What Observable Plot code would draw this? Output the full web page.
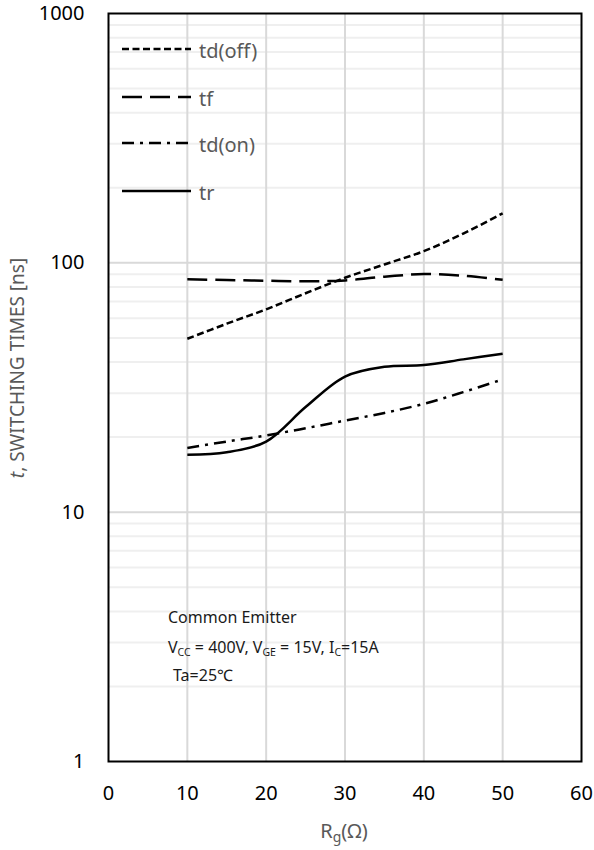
<!DOCTYPE html>
<html>
<head>
<meta charset="utf-8">
<script src="https://cdn.jsdelivr.net/npm/d3@7"></script>
<script src="https://cdn.jsdelivr.net/npm/@observablehq/plot@0.6"></script>
<style>
  html, body { margin: 0; padding: 0; background: white; }
  #wrap { position: relative; width: 594px; height: 850px; font-family: "Noto Sans", sans-serif; }
  #wrap svg.overlay { position: absolute; left: 0; top: 0; pointer-events: none; }
</style>
</head>
<body>
<div id="wrap"></div>
<script>
// ---- data ----
const seriesNames = ["td(off)", "tf", "td(on)", "tr"];

const tdOffRg = [10, 15, 20, 25, 30, 35, 40, 45, 50];
const tdOffNs = [49.6, 57, 65.1, 75.5, 87.1, 98.5, 111.4, 131, 158];

const tfRg = [10, 15, 20, 25, 30, 35, 40, 45, 50];
const tfNs = [86.0, 85.3, 84.8, 84.3, 85.0, 88.0, 90.1, 88.8, 85.5];

const tdOnRg = [10, 15, 20, 25, 30, 35, 40, 45, 50];
const tdOnNs = [18.1, 19.2, 20.3, 21.7, 23.3, 25.0, 27.2, 30.3, 34.1];

const trRg = [10, 15, 20, 25, 30, 35, 40, 45, 50];
const trNs = [17.0, 17.4, 19.2, 26.4, 35.0, 38.3, 38.9, 41.0, 43.2];

const xTicks = [0, 10, 20, 30, 40, 50, 60];
const xGrid = [10, 20, 30, 40, 50];
const yTicks = [1, 10, 100, 1000];
const yMajorGrid = [10, 100];
const yMinorGrid = [2, 3, 4, 5, 6, 7, 8, 9, 20, 30, 40, 50, 60, 70, 80, 90, 200, 300, 400, 500, 600, 700, 800, 900];

// ---- styles ----
const dashes = { "td(off)": "7,3.5", "tf": "20,8", "td(on)": "12,6,3,6", "tr": null };

function rows(xs, ys, name) { return xs.map((x, i) => ({ rg: x, t: ys[i], name })); }
const data = {
  "td(off)": rows(tdOffRg, tdOffNs, "td(off)"),
  "tf": rows(tfRg, tfNs, "tf"),
  "td(on)": rows(tdOnRg, tdOnNs, "td(on)"),
  "tr": rows(trRg, trNs, "tr")
};

const lineMarks = seriesNames.map(n => Plot.line(data[n], {
  x: "rg", y: "t", curve: "catmull-rom", stroke: "#000", strokeWidth: 2.5,
  strokeDasharray: dashes[n] || undefined, strokeLinecap: "butt"
}));

const chart = Plot.plot({
  width: 594, height: 850,
  marginLeft: 108, marginRight: 13, marginTop: 13, marginBottom: 89,
  style: { fontFamily: "Noto Sans", fontSize: "20px", color: "#000", background: "white" },
  x: { domain: [0, 60] },
  y: { type: "log", domain: [1, 1000] },
  marks: [
    Plot.ruleY(yMinorGrid, { stroke: "#efefef", strokeWidth: 2 }),
    Plot.ruleY(yMajorGrid, { stroke: "#d9d9d9", strokeWidth: 2 }),
    Plot.ruleX(xGrid, { stroke: "#d9d9d9", strokeWidth: 2 }),
    Plot.axisX({ ticks: xTicks, tickSize: 0, tickPadding: 24, fontSize: 20, label: null, tickFormat: d => String(d) }),
    Plot.axisY({ ticks: yTicks, tickSize: 0, tickPadding: 24, fontSize: 20, label: null, tickFormat: d => String(d) }),
    ...lineMarks,
    Plot.frame({ stroke: "#000", strokeWidth: 2 })
  ]
});
const wrap = document.getElementById("wrap");
wrap.appendChild(chart);

// ---- overlay: legend, annotation, axis titles ----
const NS = "http://www.w3.org/2000/svg";
const ov = document.createElementNS(NS, "svg");
ov.setAttribute("class", "overlay");
ov.setAttribute("width", 594);
ov.setAttribute("height", 850);
ov.setAttribute("font-family", "Noto Sans");
wrap.appendChild(ov);
function el(tag, attrs, parent) {
  const e = document.createElementNS(NS, tag);
  for (const k in attrs) e.setAttribute(k, attrs[k]);
  (parent || ov).appendChild(e);
  return e;
}

// legend
const legendY = [49, 97, 143, 191];
seriesNames.forEach((n, i) => {
  const y = legendY[i];
  const ln = el("line", { x1: 122, x2: 191, y1: y, y2: y, stroke: "#000", "stroke-width": 2.5 });
  if (dashes[n]) ln.setAttribute("stroke-dasharray", dashes[n]);
  const t = el("text", { x: 199, y: y + 1, "font-size": 20, fill: "#595959", "dominant-baseline": "central" });
  t.textContent = n;
});

// annotation
const a1 = el("text", { x: 168, y: 623, "font-size": 16, fill: "#1a1a1a" });
a1.textContent = "Common Emitter";
const a2 = el("text", { x: 168, y: 653, "font-size": 16, fill: "#1a1a1a" });
const parts = [["V", 0], ["CC", 1], [" = 400V, V", 0], ["GE", 1], [" = 15V, I", 0], ["C", 1], ["=15A", 0]];
let sub = false;
parts.forEach(([s, isSub]) => {
  const ts = el("tspan", {}, a2);
  if (isSub && !sub) { ts.setAttribute("dy", 3); ts.setAttribute("font-size", 10.5); sub = true; }
  else if (isSub) { ts.setAttribute("font-size", 10.5); }
  else if (!isSub && sub) { ts.setAttribute("dy", -3); sub = false; }
  ts.textContent = s;
});
const a3 = el("text", { x: 173, y: 681, "font-size": 16, fill: "#1a1a1a" });
a3.textContent = "Ta=25℃";

// y axis title
const yt = el("text", { transform: "translate(23.5,368) rotate(-90)", "text-anchor": "middle", "font-size": 19, fill: "#595959" });
const yt1 = el("tspan", { "font-style": "italic" }, yt); yt1.textContent = "t";
const yt2 = el("tspan", {}, yt); yt2.textContent = ", SWITCHING TIMES [ns]";

// x axis title
const xt = el("text", { x: 344, y: 838, "text-anchor": "middle", "font-size": 20, fill: "#595959" });
const xt1 = el("tspan", {}, xt); xt1.textContent = "R";
const xt2 = el("tspan", { "font-size": 14, dy: 4 }, xt); xt2.textContent = "g";
const xt3 = el("tspan", { dy: -4 }, xt); xt3.textContent = "(Ω)";
</script>
</body>
</html>
